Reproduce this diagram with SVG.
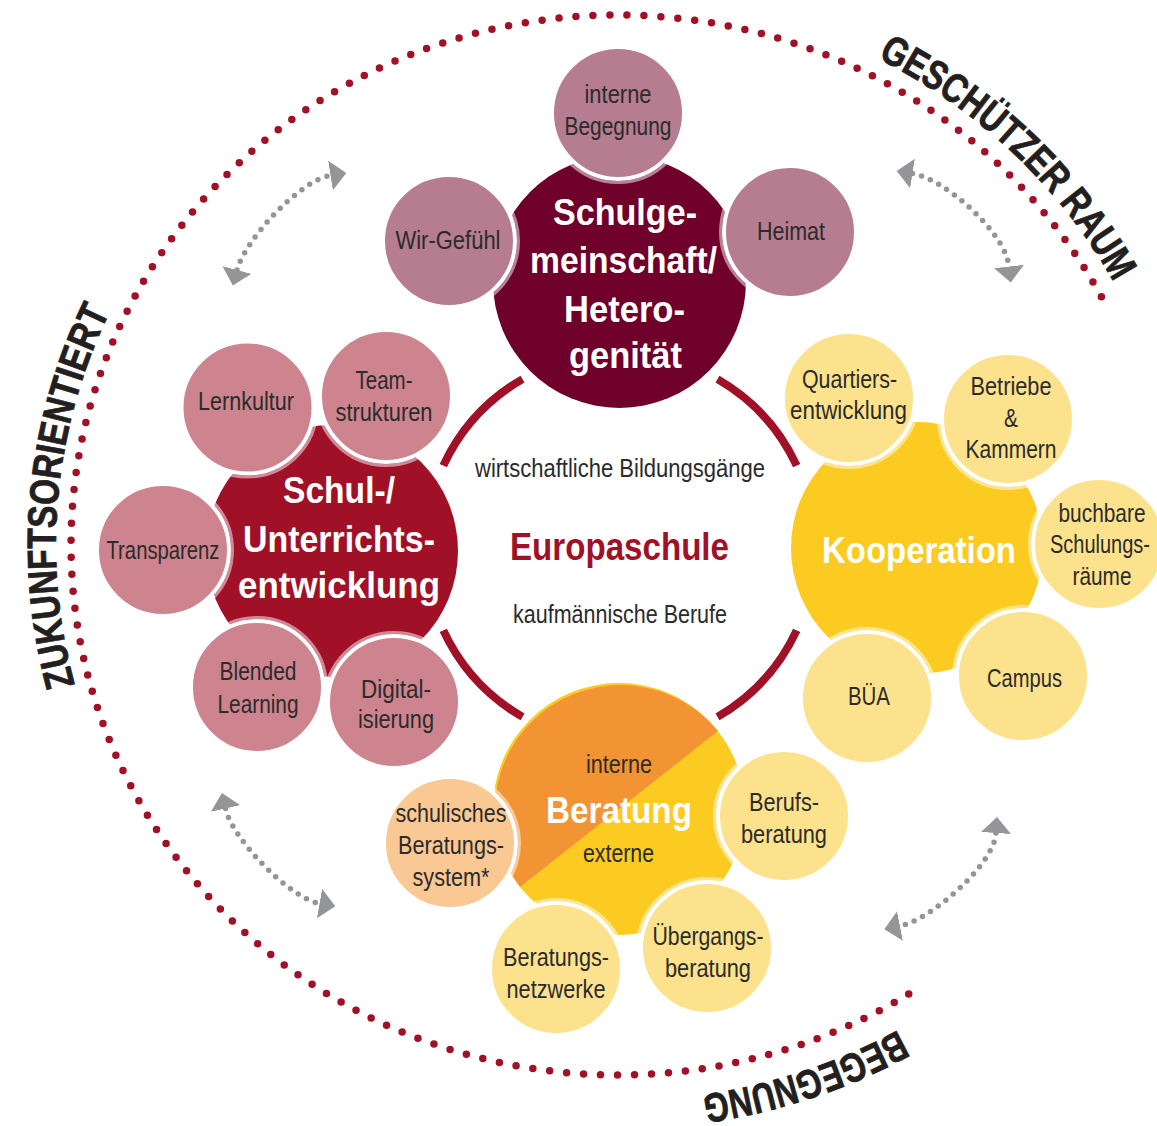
<svg xmlns="http://www.w3.org/2000/svg" width="1157" height="1126" viewBox="0 0 1157 1126">
<style>
text { font-family: "Liberation Sans Narrow", "Liberation Sans", Arial, sans-serif; }
.lbl { font-size: 26px; fill: #2b2b2b; text-anchor: middle; }
.ttl { font-size: 37px; font-weight: bold; fill: #ffffff; text-anchor: middle; }
.outer { font-size: 41px; font-weight: bold; fill: #231f20; stroke: #231f20; stroke-width: 0.8; }
.ring { fill: none; stroke: #a01128; stroke-width: 8; }
.dots { fill: none; stroke: #a01128; stroke-width: 7.5; stroke-linecap: round; stroke-dasharray: 0 17; }
.gdots { fill: none; stroke: #939598; stroke-width: 5.5; stroke-linecap: round; stroke-dasharray: 0 9.5; marker-start: url(#ah); marker-end: url(#ah); }
.halo { fill: none; stroke: #ffffff; stroke-opacity: 0.5; stroke-width: 3; }
.sc { stroke: #ffffff; stroke-width: 4; }
.top-big { fill: #6e0029; }
.top-sm { fill: #b57d8f; }
.left-big { fill: #a01128; }
.left-sm { fill: #cd848f; }
.yel-big { fill: #fbcb21; }
.yel-sm { fill: #fde28d; }
.org-big { fill: #f39434; }
.peach-sm { fill: #f9c893; }
</style>
<defs>
<marker id="ah" markerUnits="userSpaceOnUse" orient="auto-start-reverse" markerWidth="20" markerHeight="32" viewBox="0 -16 20 32" refX="0" refY="0">
<path d="M0,-15 L16,0 L0,15 Z" fill="#939598"/>
</marker>
<path id="pGesch" d="M759.5,14.5 A565 548 0 0 1 1162.4,398.6"/>
<path id="pZuk" d="M130.3,815.9 A562 545 0 0 1 188.7,193.2"/>
<path id="pBeg" d="M1081.6,871.8 A573 556 0 0 1 460.1,1079.5"/>
</defs>

<g id="outer-circle">
<path class="dots" d="M908.7,994 A547 530 0 1 1 1108,309.4"/>
<text class="outer"><textPath href="#pGesch" startOffset="50%" text-anchor="middle" textLength="330" lengthAdjust="spacingAndGlyphs">GESCHÜTZER RAUM</textPath></text>
<text class="outer"><textPath href="#pZuk" startOffset="50%" text-anchor="middle" textLength="383" lengthAdjust="spacingAndGlyphs">ZUKUNFTSORIENTIERT</textPath></text>
<text class="outer"><textPath href="#pBeg" startOffset="50%" text-anchor="middle" textLength="208" lengthAdjust="spacingAndGlyphs">BEGEGNUNG</textPath></text>
</g>

<g id="connectors">
<path class="gdots" d="M237,270 C245,240 299.5,180.5 330.5,175.5"/>
<path class="gdots" d="M912.5,173.5 C943.5,178.5 1005,231.5 1009,266.5"/>
<path class="gdots" d="M225.5,808.5 C232.5,839.5 290.5,898.5 319.5,903.5"/>
<path class="gdots" d="M996,833 C994,865 930,920 900,926"/>
<path class="ring" d="M443.3,465.6 A195 195 0 0 1 522.5,379.1"/>
<path class="ring" d="M717.5,379.1 A195 195 0 0 1 796.7,465.6"/>
<path class="ring" d="M796.7,630.4 A195 195 0 0 1 717.5,716.9"/>
<path class="ring" d="M522.5,716.9 A195 195 0 0 1 443.3,630.4"/>
</g>

<g id="center">
<text class="lbl" x="620" y="477" textLength="290" lengthAdjust="spacingAndGlyphs">wirtschaftliche Bildungsgänge</text>
<text x="619.5" y="560" textLength="219" lengthAdjust="spacingAndGlyphs" style="font-size:39px;font-weight:bold;fill:#a01128;text-anchor:middle">Europaschule</text>
<text class="lbl" x="620" y="623" textLength="214" lengthAdjust="spacingAndGlyphs">kaufmännische Berufe</text>
</g>

<g id="schulgemeinschaft">
<circle class="top-big" cx="619.5" cy="281.5" r="126.5"/>
<text class="ttl" x="625" y="225" textLength="144" lengthAdjust="spacingAndGlyphs">Schulge-</text>
<text class="ttl" x="623.5" y="273" textLength="187" lengthAdjust="spacingAndGlyphs">meinschaft/</text>
<text class="ttl" x="624.5" y="322" textLength="121" lengthAdjust="spacingAndGlyphs">Hetero-</text>
<text class="ttl" x="625.5" y="368" textLength="113" lengthAdjust="spacingAndGlyphs">genität</text>
</g>
<g id="interne-begegnung">
<circle class="halo" cx="618" cy="113" r="69.5"/>
<circle class="sc top-sm" cx="618" cy="113" r="66"/>
<text class="lbl" x="618" y="103" textLength="67" lengthAdjust="spacingAndGlyphs">interne</text>
<text class="lbl" x="618" y="135" textLength="107" lengthAdjust="spacingAndGlyphs">Begegnung</text>
</g>
<g id="wir-gefuehl">
<circle class="halo" cx="449" cy="241" r="69.5"/>
<circle class="sc top-sm" cx="449" cy="241" r="66"/>
<text class="lbl" x="448" y="249" textLength="105" lengthAdjust="spacingAndGlyphs">Wir-Gefühl</text>
</g>
<g id="heimat">
<circle class="halo" cx="790" cy="232" r="69.5"/>
<circle class="sc top-sm" cx="790" cy="232" r="66"/>
<text class="lbl" x="791" y="240" textLength="68" lengthAdjust="spacingAndGlyphs">Heimat</text>
</g>

<g id="schulentwicklung">
<circle class="left-big" cx="332" cy="551" r="126"/>
<text class="ttl" x="339" y="503" textLength="112" lengthAdjust="spacingAndGlyphs">Schul-/</text>
<text class="ttl" x="339" y="552" textLength="192" lengthAdjust="spacingAndGlyphs">Unterrichts-</text>
<text class="ttl" x="339" y="598" textLength="202" lengthAdjust="spacingAndGlyphs">entwicklung</text>
</g>
<g id="lernkultur">
<circle class="halo" cx="247.5" cy="407.5" r="69.5"/>
<circle class="sc left-sm" cx="247.5" cy="407.5" r="66"/>
<text class="lbl" x="246" y="410" textLength="96" lengthAdjust="spacingAndGlyphs">Lernkultur</text>
</g>
<g id="teamstrukturen">
<circle class="halo" cx="386" cy="396" r="69.5"/>
<circle class="sc left-sm" cx="386" cy="396" r="66"/>
<text class="lbl" x="384" y="389" textLength="57" lengthAdjust="spacingAndGlyphs">Team-</text>
<text class="lbl" x="384" y="421" textLength="97" lengthAdjust="spacingAndGlyphs">strukturen</text>
</g>
<g id="transparenz">
<circle class="halo" cx="163" cy="550" r="69.5"/>
<circle class="sc left-sm" cx="163" cy="550" r="66"/>
<text class="lbl" x="163" y="559" textLength="113" lengthAdjust="spacingAndGlyphs">Transparenz</text>
</g>
<g id="blended-learning">
<circle class="halo" cx="257" cy="687" r="69.5"/>
<circle class="sc left-sm" cx="257" cy="687" r="66"/>
<text class="lbl" x="258" y="680" textLength="77" lengthAdjust="spacingAndGlyphs">Blended</text>
<text class="lbl" x="258" y="713" textLength="81" lengthAdjust="spacingAndGlyphs">Learning</text>
</g>
<g id="digitalisierung">
<circle class="halo" cx="394" cy="702" r="69.5"/>
<circle class="sc left-sm" cx="394" cy="702" r="66"/>
<text class="lbl" x="396" y="698" textLength="70" lengthAdjust="spacingAndGlyphs">Digital-</text>
<text class="lbl" x="396" y="728" textLength="76" lengthAdjust="spacingAndGlyphs">isierung</text>
</g>

<g id="kooperation">
<circle class="yel-big" cx="917" cy="548" r="126"/>
<text class="ttl" x="919" y="563" textLength="194" lengthAdjust="spacingAndGlyphs">Kooperation</text>
</g>
<g id="quartiersentwicklung">
<circle class="halo" cx="849" cy="398" r="69.5"/>
<circle class="sc yel-sm" cx="849" cy="398" r="66"/>
<text class="lbl" x="849.5" y="388" textLength="95" lengthAdjust="spacingAndGlyphs">Quartiers-</text>
<text class="lbl" x="848.5" y="419" textLength="117" lengthAdjust="spacingAndGlyphs">entwicklung</text>
</g>
<g id="betriebe-kammern">
<circle class="halo" cx="1008" cy="419" r="69.5"/>
<circle class="sc yel-sm" cx="1008" cy="419" r="66"/>
<text class="lbl" x="1011" y="395" textLength="81" lengthAdjust="spacingAndGlyphs">Betriebe</text>
<text class="lbl" x="1011" y="427" textLength="14" lengthAdjust="spacingAndGlyphs">&amp;</text>
<text class="lbl" x="1011" y="458" textLength="91" lengthAdjust="spacingAndGlyphs">Kammern</text>
</g>
<g id="schulungsraeume">
<circle class="halo" cx="1099" cy="544" r="69.5"/>
<circle class="sc yel-sm" cx="1099" cy="544" r="66"/>
<text class="lbl" x="1102" y="522" textLength="87" lengthAdjust="spacingAndGlyphs">buchbare</text>
<text class="lbl" x="1100" y="553" textLength="100" lengthAdjust="spacingAndGlyphs">Schulungs-</text>
<text class="lbl" x="1102" y="585" textLength="59" lengthAdjust="spacingAndGlyphs">räume</text>
</g>
<g id="campus">
<circle class="halo" cx="1023" cy="676" r="69.5"/>
<circle class="sc yel-sm" cx="1023" cy="676" r="66"/>
<text class="lbl" x="1024.5" y="687" textLength="75" lengthAdjust="spacingAndGlyphs">Campus</text>
</g>
<g id="buea">
<circle class="halo" cx="867" cy="698" r="69.5"/>
<circle class="sc yel-sm" cx="867" cy="698" r="66"/>
<text class="lbl" x="869" y="705" textLength="42" lengthAdjust="spacingAndGlyphs">BÜA</text>
</g>

<g id="beratung">
<circle class="yel-big" cx="619" cy="809" r="126"/>
<path class="org-big" d="M718,731.1 A126 126 0 0 0 520,886.9 Z"/>
<text class="lbl" x="619" y="773" textLength="66" lengthAdjust="spacingAndGlyphs">interne</text>
<text class="ttl" x="619" y="823" textLength="146" lengthAdjust="spacingAndGlyphs">Beratung</text>
<text class="lbl" x="618.5" y="862" textLength="71" lengthAdjust="spacingAndGlyphs">externe</text>
</g>
<g id="beratungssystem">
<circle class="halo" cx="450" cy="843" r="69.5"/>
<circle class="sc peach-sm" cx="450" cy="843" r="66"/>
<text class="lbl" x="451" y="822" textLength="111" lengthAdjust="spacingAndGlyphs">schulisches</text>
<text class="lbl" x="451" y="854" textLength="106" lengthAdjust="spacingAndGlyphs">Beratungs-</text>
<text class="lbl" x="451" y="886" textLength="77" lengthAdjust="spacingAndGlyphs">system*</text>
</g>
<g id="berufsberatung">
<circle class="halo" cx="784" cy="816" r="69.5"/>
<circle class="sc yel-sm" cx="784" cy="816" r="66"/>
<text class="lbl" x="784" y="811" textLength="70" lengthAdjust="spacingAndGlyphs">Berufs-</text>
<text class="lbl" x="784" y="843" textLength="86" lengthAdjust="spacingAndGlyphs">beratung</text>
</g>
<g id="uebergangsberatung">
<circle class="halo" cx="707" cy="948" r="69.5"/>
<circle class="sc yel-sm" cx="707" cy="948" r="66"/>
<text class="lbl" x="708" y="945" textLength="111" lengthAdjust="spacingAndGlyphs">Übergangs-</text>
<text class="lbl" x="708" y="977" textLength="86" lengthAdjust="spacingAndGlyphs">beratung</text>
</g>
<g id="beratungsnetzwerke">
<circle class="halo" cx="556" cy="969" r="69.5"/>
<circle class="sc yel-sm" cx="556" cy="969" r="66"/>
<text class="lbl" x="556" y="966" textLength="106" lengthAdjust="spacingAndGlyphs">Beratungs-</text>
<text class="lbl" x="556" y="998" textLength="99" lengthAdjust="spacingAndGlyphs">netzwerke</text>
</g>
</svg>
